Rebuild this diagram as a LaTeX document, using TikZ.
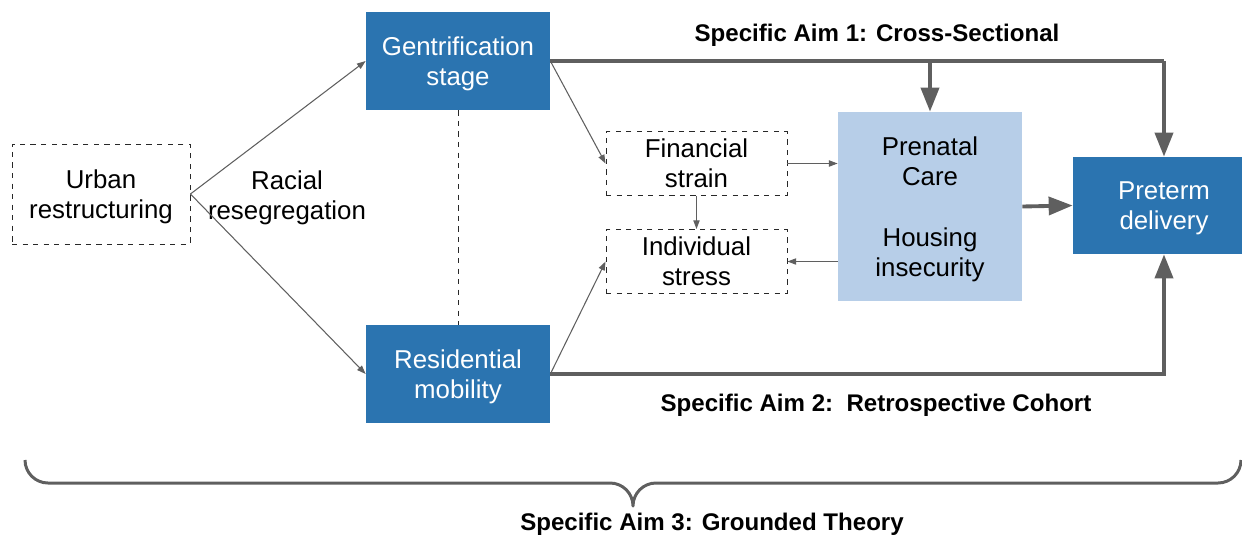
\documentclass[tikz,border=0pt]{standalone}
\usepackage{fontspec}
\setmainfont{Liberation Sans}
\usepackage{tikz}
\usetikzlibrary{arrows.meta,calc}
\definecolor{BoxDark} {RGB}{43,116,176}
\definecolor{BoxLight}{RGB}{183,206,232}
\definecolor{LineGry} {RGB}{95,95,95}
\definecolor{DashGry} {RGB}{40,40,40}
\tikzset{
  nd_dash/.style={
    rectangle, draw=DashGry, dashed, line width=0.5pt,
    minimum width=3.62cm, align=center, text depth=0pt,
    font=\fontsize{14.7}{17.1}\selectfont},
  nd_dark/.style={
    rectangle, fill=BoxDark, text=white,
    minimum width=3.68cm, minimum height=1.96cm,
    align=center, text depth=0pt, font=\fontsize{14.7}{17.1}\selectfont},
  nd_light/.style={
    rectangle, fill=BoxLight,
    minimum width=3.68cm, minimum height=3.78cm,
    align=center, text depth=0pt, font=\fontsize{14.7}{17.1}\selectfont},
  nd_txt/.style={align=center, text depth=0pt, font=\fontsize{14.7}{17.1}\selectfont},
  lbl_aim/.style={font=\fontsize{13.7}{16}\selectfont\bfseries},
  arr_thin/.style={-{Triangle[length=5pt,width=3.6pt]},LineGry,line width=0.6pt},
  arr_thick/.style={-{Triangle[length=0.48cm,width=0.36cm]},LineGry,line width=2.2pt},
}

\begin{document}
\begin{tikzpicture}[x=1cm,y=1cm]
\useasboundingbox (0,0) rectangle (24.84,-10.76);

%% left part
\node[nd_dash, minimum width=3.56cm, minimum height=2cm] at (2.02,-3.88) (urban){Urban\\restructuring};
\node[nd_txt]  at (5.74,-3.90) (racial){Racial\\resegregation};
\node[nd_dark] at (9.16,-1.22) (gent){Gentrification\\stage};
\node[nd_dark] at (9.16,-7.48) (resid){Residential\\mobility};

%% middle part
\node[nd_dash, minimum height=1.28cm] at (13.93,-3.27) (fin){Financial\\strain};
\node[nd_dash, minimum height=1.28cm] at (13.93,-5.23) (indiv){Individual\\stress};
\node[nd_light] at (18.60,-4.13) (prenatal){Prenatal\\Care\\[0.62cm]Housing\\insecurity};
\node[nd_dark, minimum width=3.64cm, minimum height=1.94cm] at (23.28,-4.11) (preterm){Preterm\\delivery};

%% aims
\node[lbl_aim] at (17.54,-0.70) (aim1){Specific Aim 1: Cross-Sectional};
\node[lbl_aim] at (17.52,-8.10) (aim2){Specific Aim 2:\ \ Retrospective Cohort};
\node[lbl_aim] at (14.24,-10.48) (aim3){Specific Aim 3: Grounded Theory};

%% connectors
\draw[arr_thin] (urban.east)--(gent.west);
\draw[arr_thin] (urban.east)--(resid.west);
\draw[dashed,DashGry,line width=0.5pt] (gent.south)--(resid.north);
\draw[arr_thin] (gent.east)--(fin.west);
\draw[arr_thin] (resid.east)--(indiv.west);
\draw[arr_thin] (fin.east)--(fin.east -| prenatal.west);
\draw[arr_thin] (fin.south)--(indiv.north);
\draw[arr_thin] (indiv.east -| prenatal.west)--(indiv.east);

\coordinate (top1) at (gent.east -| prenatal.north);
\coordinate (top2) at (gent.east -| preterm.north);
\coordinate (bot2) at (resid.east -| preterm.south);
\draw[LineGry,line width=2.2pt] (gent.east)--(top2);
\draw[arr_thick] (top1)--(prenatal.north);
\draw[arr_thick] (top2)--(preterm.north);
\draw[arr_thick] (resid.east)--(bot2)--(preterm.south);
\draw[arr_thick] (prenatal.east)--(preterm.west);

%% brace
\coordinate (brL) at (0.50,-9.20);
\draw[LineGry,line width=1.7pt,line join=round]
  (brL) arc (180:270:0.46) -- (12.20,-9.66) arc (90:0:0.46)
  arc (180:90:0.46) -- (24.36,-9.66) arc (270:360:0.46);

\end{tikzpicture}
\end{document}
